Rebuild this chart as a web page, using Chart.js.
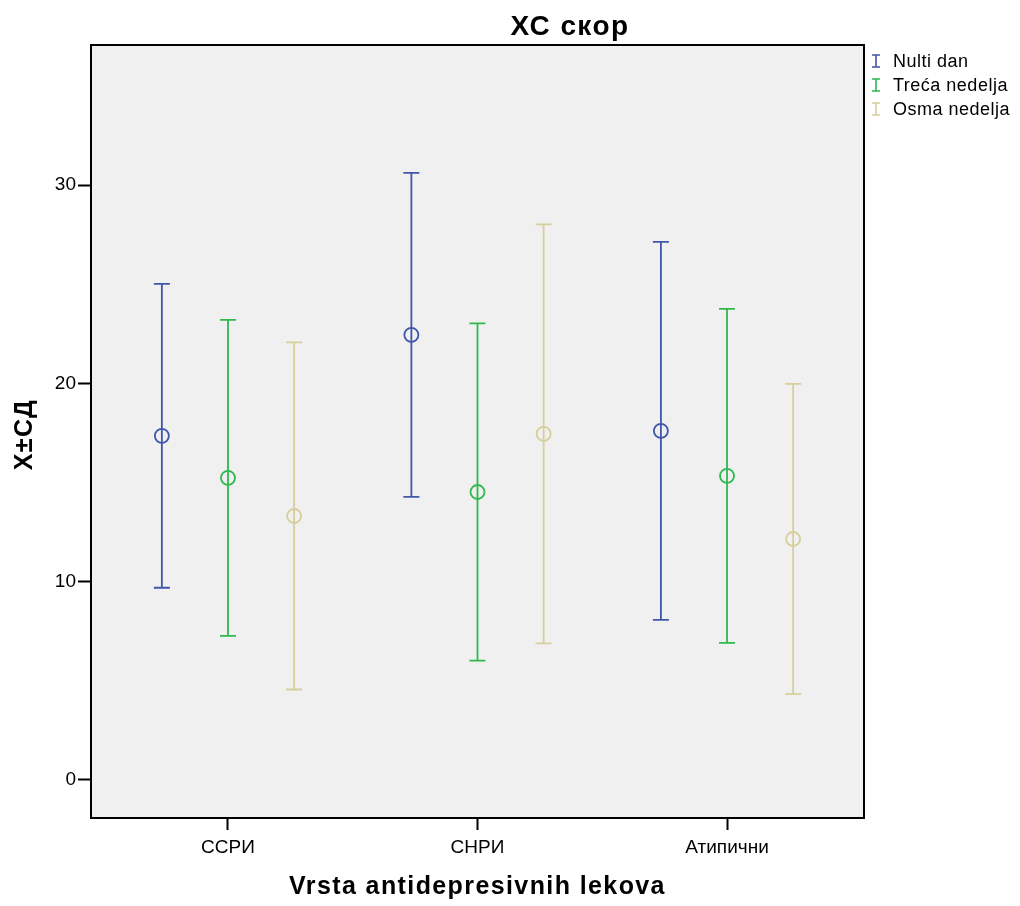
<!DOCTYPE html>
<html>
<head>
<meta charset="utf-8">
<title>ХС скор</title>
<script src="https://cdn.jsdelivr.net/npm/chart.js@4.4.1/dist/chart.umd.min.js"></script>
<style>
  html, body { margin: 0; padding: 0; background: #ffffff; }
  #wrap { width: 1020px; height: 906px; }
</style>
</head>
<body>
<div id="wrap"><canvas id="scoreChart" width="1020" height="906"></canvas></div>
<script>
  // Drug groups on the x axis
  const categories = ["ССРИ", "СНРИ", "Атипични"];

  // Measurement times (one series each)
  const seriesNames = ["Nulti dan", "Treća nedelja", "Osma nedelja"];
  const seriesColors = ["#3f56a9", "#2fb84e", "#d6cf9c"];

  // Mean score per group
  const meansDay0 = [17.35, 22.44, 17.6];
  const meansWeek3 = [15.23, 14.52, 15.33];
  const meansWeek8 = [13.31, 17.45, 12.15];

  // Standard deviation per group
  const sdDay0 = [7.66, 8.17, 9.53];
  const sdWeek3 = [7.97, 8.5, 8.42];
  const sdWeek8 = [8.75, 10.56, 7.82];

  const yTicks = [0, 10, 20, 30];

  const chartTitle = "ХС скор";
  const xTitle = "Vrsta antidepresivnih lekova";
  const yTitle = "X±СД";

  const FONT = "'Liberation Sans', Arial, sans-serif";

  const allMeans = [meansDay0, meansWeek3, meansWeek8];
  const allSds = [sdDay0, sdWeek3, sdWeek8];

  // horizontal shift of each series inside its category slot
  const slotShift = 0.265;

  function buildDatasets() {
    return seriesNames.map((name, s) => ({
      label: name,
      data: allMeans[s].map((m, i) => ({
        x: i + 1 + (s - 1) * slotShift,
        y: m,
        sd: allSds[s][i],
      })),
      showLine: false,
      borderColor: seriesColors[s],
      backgroundColor: "rgba(0,0,0,0)",
      pointStyle: "circle",
      pointRadius: 7,
      pointBorderWidth: 1.8,
      pointHoverRadius: 7,
    }));
  }

  // gray plot background + frame
  const plotFrame = {
    id: "plotFrame",
    beforeDraw(chart) {
      const { ctx, chartArea: a } = chart;
      ctx.save();
      ctx.fillStyle = "#f0f0f0";
      ctx.fillRect(a.left, a.top, a.right - a.left, a.bottom - a.top);
      ctx.restore();
    },
    afterDraw(chart) {
      const { ctx, chartArea: a } = chart;
      ctx.save();
      ctx.strokeStyle = "#000000";
      ctx.lineWidth = 2;
      ctx.strokeRect(a.left, a.top, a.right - a.left, a.bottom - a.top);
      ctx.restore();
    },
  };

  // mean ± SD whiskers, drawn under the circles
  const errorBars = {
    id: "errorBars",
    beforeDatasetsDraw(chart) {
      const { ctx } = chart;
      const xs = chart.scales.x;
      const ys = chart.scales.y;
      const cap = 8;
      ctx.save();
      ctx.lineWidth = 1.8;
      chart.data.datasets.forEach((ds) => {
        ctx.strokeStyle = ds.borderColor;
        ds.data.forEach((p) => {
          const px = xs.getPixelForValue(p.x);
          const top = ys.getPixelForValue(p.y + p.sd);
          const bot = ys.getPixelForValue(p.y - p.sd);
          ctx.beginPath();
          ctx.moveTo(px, top);
          ctx.lineTo(px, bot);
          ctx.moveTo(px - cap, top);
          ctx.lineTo(px + cap, top);
          ctx.moveTo(px - cap, bot);
          ctx.lineTo(px + cap, bot);
          ctx.stroke();
        });
      });
      ctx.restore();
    },
  };

  // titles and the legend box to the right of the plot
  const chartText = {
    id: "chartText",
    afterDraw(chart) {
      const { ctx, chartArea: a } = chart;
      ctx.save();
      ctx.fillStyle = "#000000";
      ctx.textAlign = "center";
      ctx.textBaseline = "middle";
      ctx.letterSpacing = "1.4px";

      ctx.font = "bold 28px " + FONT;
      ctx.fillText(chartTitle, 570, 27);

      ctx.font = "bold 25px " + FONT;
      ctx.fillText(xTitle, (a.left + a.right) / 2, 887);

      ctx.save();
      ctx.translate(25, (a.top + a.bottom) / 2 + 3);
      ctx.rotate(-Math.PI / 2);
      ctx.fillText(yTitle, 0, 0);
      ctx.restore();

      ctx.letterSpacing = "0.5px";
      ctx.font = "18px " + FONT;
      ctx.textAlign = "left";
      chart.data.datasets.forEach((ds, i) => {
        const y = a.top + 16 + i * 24;
        const x = a.right + 12;
        ctx.strokeStyle = ds.borderColor;
        ctx.lineWidth = 1.6;
        ctx.beginPath();
        ctx.moveTo(x, y - 6);
        ctx.lineTo(x, y + 6);
        ctx.moveTo(x - 4, y - 6);
        ctx.lineTo(x + 4, y - 6);
        ctx.moveTo(x - 4, y + 6);
        ctx.lineTo(x + 4, y + 6);
        ctx.stroke();
        ctx.fillText(ds.label, x + 17, y + 1);
      });
      ctx.restore();
    },
  };

  function createChart() {
    const ctx = document.getElementById("scoreChart").getContext("2d");

    return new Chart(ctx, {
      type: "scatter",
      data: { datasets: buildDatasets() },
      options: {
        responsive: false,
        animation: false,
        layout: {
          padding: { top: 45, right: 156, bottom: 4, left: 0 },
        },
        plugins: {
          legend: { display: false },
          title: { display: false },
          tooltip: { enabled: false },
        },
        scales: {
          x: {
            type: "linear",
            min: 0.451,
            max: 3.549,
            afterBuildTicks: (scale) => {
              scale.ticks = categories.map((c, i) => ({ value: i + 1 }));
            },
            afterFit: (scale) => {
              scale.height = 84;
            },
            ticks: {
              callback: (v) => categories[Math.round(v) - 1],
              color: "#000000",
              font: { family: FONT, size: 19 },
              padding: 6,
              maxRotation: 0,
            },
            grid: {
              drawOnChartArea: false,
              drawTicks: true,
              tickLength: 12,
              tickWidth: 2,
              tickColor: "#000000",
            },
            border: { display: true, color: "#000000", width: 2 },
          },
          y: {
            min: -1.92,
            max: 37.06,
            afterBuildTicks: (scale) => {
              scale.ticks = yTicks.map((v) => ({ value: v }));
            },
            afterFit: (scale) => {
              scale.width = 91;
            },
            ticks: {
              color: "#000000",
              font: { family: FONT, size: 19 },
              padding: 2,
            },
            grid: {
              drawOnChartArea: false,
              drawTicks: true,
              tickLength: 13,
              tickWidth: 2,
              tickColor: "#000000",
            },
            border: { display: true, color: "#000000", width: 2 },
          },
        },
      },
      plugins: [plotFrame, errorBars, chartText],
    });
  }

  createChart();
</script>
</body>
</html>
